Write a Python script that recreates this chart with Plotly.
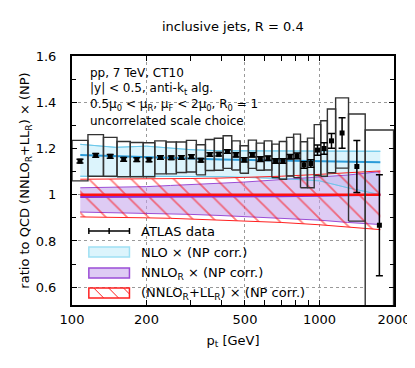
import numpy as np
import plotly.graph_objects as go

# ATLAS bins (pT edges, GeV)
edges = [100, 116, 134, 152, 172, 194, 216, 240, 264, 290, 318, 346, 376, 408, 442,
         478, 516, 556, 598, 642, 688, 736, 786, 838, 894, 952, 1012, 1076, 1162,
         1310, 1530, 1992]
data_val = [1.145, 1.170, 1.166, 1.153, 1.152, 1.151, 1.161, 1.160, 1.161, 1.165,
            1.149, 1.174, 1.175, 1.187, 1.172, 1.151, 1.172, 1.154, 1.158, 1.146,
            1.146, 1.164, 1.168, 1.129, 1.135, 1.193, 1.200, 1.233, 1.267, 1.122, 0.868]
data_stat = [0.008, 0.008, 0.008, 0.008, 0.008, 0.008, 0.008, 0.008, 0.008, 0.008,
             0.008, 0.008, 0.008, 0.008, 0.009, 0.009, 0.009, 0.010, 0.010, 0.010,
             0.010, 0.010, 0.012, 0.014, 0.016, 0.022, 0.025, 0.032, 0.066, 0.112, 0.218]
sys_up = [1.235, 1.260, 1.248, 1.230, 1.226, 1.225, 1.233, 1.228, 1.228, 1.235,
          1.216, 1.239, 1.244, 1.255, 1.233, 1.212, 1.236, 1.223, 1.233, 1.219,
          1.230, 1.248, 1.262, 1.229, 1.245, 1.303, 1.320, 1.371, 1.419, 1.349, 1.280]
sys_dn = [1.060, 1.080, 1.080, 1.078, 1.078, 1.078, 1.090, 1.090, 1.096, 1.098,
          1.086, 1.105, 1.106, 1.114, 1.107, 1.093, 1.114, 1.106, 1.107, 1.074,
          1.067, 1.081, 1.074, 1.030, 1.030, 1.083, 1.080, 1.095, 1.115, 0.886, 0.450]

# theory curves
th_pt = [108, 150, 200, 250, 300, 400, 500, 700, 1000, 1300, 1761]
nlo_up = [1.218, 1.205, 1.210, 1.200, 1.195, 1.190, 1.190, 1.190, 1.190, 1.190, 1.188]
nlo_mid = [1.172, 1.168, 1.165, 1.160, 1.157, 1.152, 1.150, 1.145, 1.142, 1.140, 1.140]
nlo_dn = [1.080, 1.078, 1.080, 1.080, 1.080, 1.078, 1.075, 1.070, 1.060, 1.030, 1.000]
nn_up = [1.030, 1.032, 1.035, 1.040, 1.045, 1.050, 1.055, 1.065, 1.075, 1.085, 1.100]
nn_mid = [0.990, 0.990, 0.990, 0.990, 0.990, 0.990, 0.990, 0.993, 0.995, 0.998, 1.000]
nn_dn = [0.925, 0.922, 0.920, 0.918, 0.915, 0.910, 0.905, 0.898, 0.890, 0.880, 0.871]
ll_up = [1.067, 1.067, 1.068, 1.070, 1.070, 1.072, 1.075, 1.080, 1.088, 1.095, 1.103]
ll_mid = [1.0] * len(th_pt)
ll_dn = [0.904, 0.903, 0.900, 0.898, 0.895, 0.890, 0.886, 0.880, 0.870, 0.860, 0.849]

FONT = "DejaVu Sans"
W, H = 415, 368
L, R, T, B = 64, 389, 48, 297
PURPLE_FILL = "rgba(195,160,235,0.55)"


def px(x):
    return (x - L) / (R - L)


def py(y):
    return (B - y) / (B - T)


lo = np.array(edges[:-1])
hi = np.array(edges[1:])
ctr = np.sqrt(lo * hi)

# boxes as polygons
bx, by = [], []
for a, b, u, d in zip(lo, hi, sys_up, sys_dn):
    bx += [a, b, b, a, a, None]
    by += [d, d, u, u, d, None]

fig = go.Figure()
fig.add_trace(go.Scatter(x=bx, y=by, mode="lines", fill="toself", fillcolor="white",
                         line=dict(width=0), hoverinfo="skip"))

# NLO band
fig.add_trace(go.Scatter(x=th_pt, y=nlo_dn, mode="lines", line=dict(color="#8fd9f0", width=1)))
fig.add_trace(go.Scatter(x=th_pt, y=nlo_up, mode="lines", fill="tonexty",
                         fillcolor="#dcf4fc", line=dict(color="#8fd9f0", width=1)))
# NNLO_R band
fig.add_trace(go.Scatter(x=th_pt, y=nn_dn, mode="lines", line=dict(color="#9b4dd6", width=1)))
fig.add_trace(go.Scatter(x=th_pt, y=nn_up, mode="lines", fill="tonexty",
                         fillcolor=PURPLE_FILL, line=dict(color="#9b4dd6", width=1)))
# NLO edges on top
fig.add_trace(go.Scatter(x=th_pt, y=nlo_dn, mode="lines", line=dict(color="#6cc7ea", width=1)))
fig.add_trace(go.Scatter(x=th_pt, y=nlo_up, mode="lines", line=dict(color="#6cc7ea", width=1)))
fig.add_trace(go.Scatter(x=th_pt, y=nlo_mid, mode="lines", line=dict(color="#2b9bd8", width=2)))
# NNLO_R+LL_R hatched band
fig.add_trace(go.Scatter(x=th_pt, y=ll_dn, mode="lines", line=dict(color="#ff2020", width=1)))
fig.add_trace(go.Scatter(x=th_pt, y=ll_up, mode="lines", fill="tonexty",
                         fillcolor="rgba(0,0,0,0)",
                         fillpattern=dict(shape="\\", fgcolor="#ff0000", bgcolor="rgba(0,0,0,0)",
                                          size=15, solidity=0.12),
                         line=dict(color="#ff2020", width=1)))
fig.add_trace(go.Scatter(x=th_pt, y=nn_mid, mode="lines", line=dict(color="#8e2fd0", width=2)))
fig.add_trace(go.Scatter(x=th_pt, y=ll_mid, mode="lines", line=dict(color="#ff1010", width=2.5)))

# box outlines
fig.add_trace(go.Scatter(x=bx, y=by, mode="lines", line=dict(color="#333333", width=1.4),
                         hoverinfo="skip"))
# data points
fig.add_trace(go.Scatter(x=ctr, y=data_val, mode="markers",
                         marker=dict(symbol="square", size=5, color="black"),
                         error_y=dict(type="data", array=data_stat, color="black",
                                      thickness=1.5, width=3.5)))

# annotations
ann = []
info = ["pp, 7 TeV, CT10",
        "|y| < 0.5, anti-k<sub>t</sub> alg.",
        "0.5μ<sub>0</sub> < μ<sub>R</sub>, μ<sub>F</sub> < 2μ<sub>0</sub>, R<sub>0</sub> = 1",
        "uncorrelated scale choice"]
for i, t in enumerate(info):
    ann.append(dict(text=t, x=px(80), y=py(65 + 16 * i), xref="paper", yref="paper",
                    xanchor="left", yanchor="middle", showarrow=False,
                    font=dict(family=FONT, size=12, color="black")))

leg_txt = ["ATLAS data", "NLO × (NP corr.)", "NNLO<sub>R</sub> × (NP corr.)",
           "(NNLO<sub>R</sub>+LL<sub>R</sub>) × (NP corr.)"]
leg_y = [223, 244, 265, 285]
for t, yy in zip(leg_txt, leg_y):
    ann.append(dict(text=t, x=px(132), y=py(yy), xref="paper", yref="paper",
                    xanchor="left", yanchor="middle", showarrow=False,
                    font=dict(family=FONT, size=13, color="black")))

ann.append(dict(text="inclusive jets, R = 0.4", x=0.5, y=py(18), xref="paper", yref="paper",
                xanchor="center", yanchor="middle", showarrow=False,
                font=dict(family=FONT, size=13, color="black")))

shapes = []
x0, x1 = px(81), px(122)
# ATLAS legend symbol
yy = py(223)
shapes.append(dict(type="line", xref="paper", yref="paper", x0=x0, x1=x1, y0=yy, y1=yy,
                   line=dict(color="black", width=1.5)))
for xx in [81, 101.5, 122]:
    shapes.append(dict(type="line", xref="paper", yref="paper", x0=px(xx), x1=px(xx),
                       y0=py(220), y1=py(226), line=dict(color="black", width=1.5)))
shapes.append(dict(type="rect", xref="paper", yref="paper", x0=x0, x1=x1,
                   y0=py(249), y1=py(239), fillcolor="#dcf4fc",
                   line=dict(color="#9fe0f3", width=1.5)))
shapes.append(dict(type="rect", xref="paper", yref="paper", x0=x0, x1=x1,
                   y0=py(270), y1=py(260), fillcolor=PURPLE_FILL,
                   line=dict(color="#9b4dd6", width=1.5)))
shapes.append(dict(type="rect", xref="paper", yref="paper", x0=x0, x1=x1,
                   y0=py(290), y1=py(280), fillcolor="white",
                   line=dict(color="#ff2020", width=1.5)))
for s in range(-10, 45, 15):
    a0, a1 = 81 + s, 81 + s + 10
    t0, t1 = 280, 290
    if a0 < 81:
        t0 += 81 - a0
        a0 = 81
    if a1 > 122:
        t1 -= a1 - 122
        a1 = 122
    if a1 > a0:
        shapes.append(dict(type="line", xref="paper", yref="paper", x0=px(a0), x1=px(a1),
                           y0=py(t0), y1=py(t1), line=dict(color="#ff2020", width=1)))

fig.update_layout(
    width=W, height=H,
    margin=dict(l=L, r=W - R, t=T, b=H - B),
    paper_bgcolor="white", plot_bgcolor="white",
    showlegend=False,
    font=dict(family=FONT, size=13, color="black"),
    annotations=ann, shapes=shapes,
    xaxis=dict(type="log", range=[2, np.log10(2000)],
               tickvals=[100, 200, 500, 1000, 2000],
               ticktext=["100", "200", "500", "1000", "2000"],
               ticks="inside", ticklen=5, tickcolor="black",
               showline=True, linecolor="black", linewidth=2, mirror="allticks",
               showgrid=True, gridcolor="#999999", griddash="dot", gridwidth=1,
               minor=dict(tickvals=[300, 400, 600, 700, 800, 900], ticks="inside",
                          ticklen=5, tickcolor="black", showgrid=False),
               zeroline=False, ticklabelstandoff=1,
               title=dict(text="p<sub>t</sub> [GeV]", standoff=10,
                          font=dict(family=FONT, size=13))),
    yaxis=dict(range=[0.523, 1.6],
               tickvals=[0.6, 0.8, 1.0, 1.2, 1.4, 1.6],
               ticktext=["0.6", "0.8", "1", "1.2", "1.4", "1.6"],
               ticks="inside", ticklen=5, tickcolor="black",
               showline=True, linecolor="black", linewidth=2, mirror="allticks",
               showgrid=True, gridcolor="#999999", griddash="dot", gridwidth=1,
               minor=dict(tickvals=[0.7, 0.9, 1.1, 1.3, 1.5], ticks="inside",
                          ticklen=4, tickcolor="black", showgrid=False),
               zeroline=False, ticklabelstandoff=11,
               title=dict(text="ratio to QCD (NNLO<sub>R</sub>+LL<sub>R</sub>) × (NP)",
                          standoff=3, font=dict(family=FONT, size=13))),
)

fig.write_html("out.html")
